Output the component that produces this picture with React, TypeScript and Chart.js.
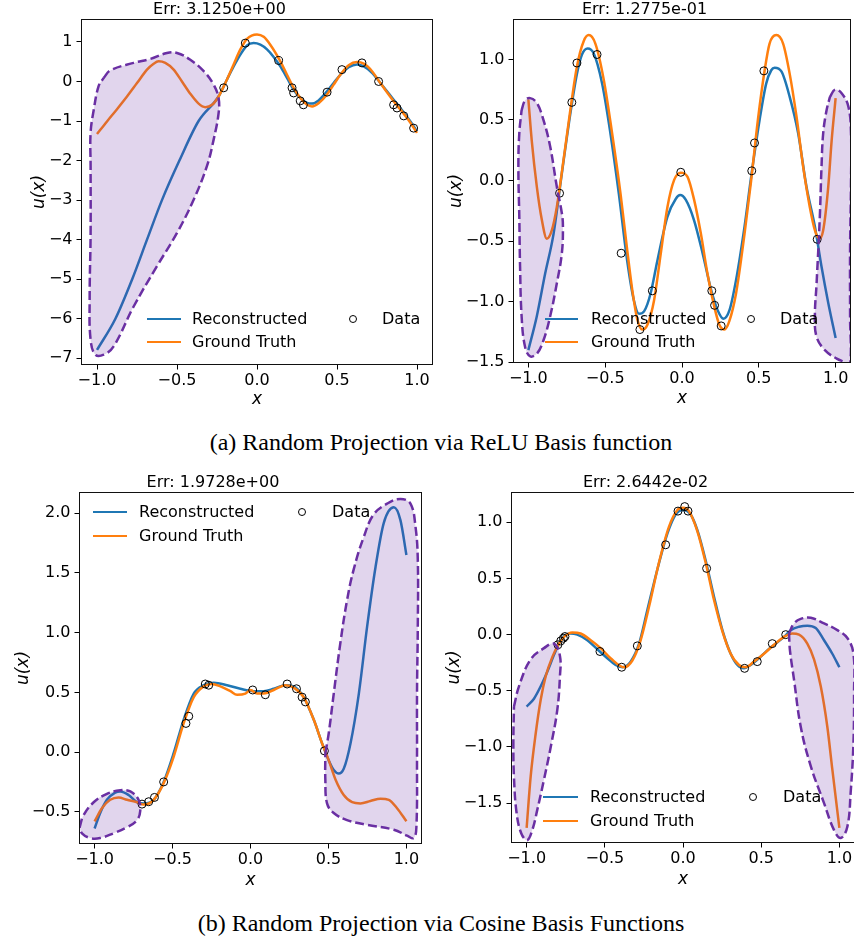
import React, { useEffect, useRef } from "react";
import { Chart, registerables } from "chart.js";

Chart.register(...registerables);

type Pt = [number, number];

const FONT = "'DejaVu Sans', sans-serif";
const BLUE = "#1f77b4";
const ORANGE = "#ff7f0e";
const PURPLE = "#6a2fa3";
const PURPLE_FILL = "rgba(106, 47, 163, 0.2)";

// ---------- shared ----------
const xTicks = [-1, -0.5, 0, 0.5, 1];
const xLim: [number, number] = [-1.1, 1.1];
const legendLabels = ["Reconstructed", "Ground Truth", "Data"];
const titles = ["Err: 3.1250e+00", "Err: 1.2775e-01", "Err: 1.9728e+00", "Err: 2.6442e-02"];
const captions = [
  "(a) Random Projection via ReLU Basis function",
  "(b) Random Projection via Cosine Basis Functions",
];

// ---------- panel 1 (ReLU, left) ----------
const p1YTicks = [-7, -6, -5, -4, -3, -2, -1, 0, 1];
const p1Recon: Pt[] = [
  [-1, -6.79], [-0.885, -6.0], [-0.78, -5.0], [-0.6875, -4.0], [-0.594, -3.0], [-0.485, -2.0],
  [-0.365, -1.0], [-0.24, -0.38], [-0.1875, 0.05], [-0.146, 0.38], [-0.104, 0.68], [-0.0625, 0.91],
  [-0.021, 0.97], [0.021, 0.93], [0.0625, 0.81], [0.104, 0.62], [0.146, 0.38], [0.1875, 0.09],
  [0.229, -0.21], [0.271, -0.42], [0.3125, -0.54], [0.344, -0.56], [0.385, -0.48], [0.4375, -0.25],
  [0.479, -0.04], [0.521, 0.17], [0.573, 0.36], [0.625, 0.43], [0.667, 0.38], [0.719, 0.22],
  [0.771, -0.04], [0.8125, -0.25], [0.854, -0.46], [0.896, -0.67], [0.948, -0.95], [1, -1.26],
];
const p1Truth: Pt[] = [
  [-1, -1.33], [-0.9375, -1.01], [-0.875, -0.7], [-0.8125, -0.38], [-0.75, -0.04], [-0.6875, 0.3],
  [-0.646, 0.45], [-0.615, 0.51], [-0.573, 0.47], [-0.521, 0.3], [-0.469, 0.0], [-0.417, -0.31],
  [-0.365, -0.56], [-0.323, -0.65], [-0.281, -0.59], [-0.24, -0.38], [-0.1875, 0.05], [-0.146, 0.43],
  [-0.104, 0.81], [-0.0625, 1.08], [0, 1.19], [0.042, 1.13], [0.083, 0.93], [0.146, 0.51],
  [0.1875, 0.17], [0.229, -0.16], [0.271, -0.42], [0.3125, -0.59], [0.344, -0.63], [0.385, -0.55],
  [0.4375, -0.33], [0.479, -0.08], [0.521, 0.17], [0.573, 0.41], [0.625, 0.49], [0.667, 0.45],
  [0.719, 0.26], [0.771, -0.04], [0.8125, -0.27], [0.854, -0.5], [0.896, -0.71], [0.948, -0.98], [1, -1.3],
];
const p1Data: Pt[] = [
  [-0.073, 0.97], [0.135, 0.53], [-0.208, -0.16], [0.219, -0.16], [0.229, -0.29], [0.27, -0.49],
  [0.29, -0.59], [0.438, -0.27], [0.531, 0.3], [0.656, 0.47], [0.76, 0.0], [0.854, -0.59],
  [0.875, -0.67], [0.917, -0.87], [0.979, -1.18],
];
const p1Blob: Pt[] = [
  [-0.958, 0.09], [-0.917, 0.28], [-0.771, 0.47], [-0.667, 0.57], [-0.563, 0.72], [-0.5, 0.72],
  [-0.417, 0.55], [-0.333, 0.26], [-0.271, -0.08], [-0.24, -0.42], [-0.24, -0.8], [-0.271, -1.47],
  [-0.313, -2.14], [-0.396, -2.99], [-0.5, -3.83], [-0.625, -4.67], [-0.771, -5.69], [-0.896, -6.7],
  [-0.958, -6.91], [-1.01, -6.91], [-1.04, -6.53], [-1.046, -5.52], [-1.04, -3.83], [-1.04, -2.15],
  [-1.04, -1.3], [-1.02, -0.71], [-0.99, -0.12],
];

// ---------- panel 2 (ReLU, right) ----------
const p2YTicks = [-1.5, -1, -0.5, 0, 0.5, 1];
const p2Recon: Pt[] = [
  [-1, -1.4], [-0.945, -1.12], [-0.891, -0.77], [-0.836, -0.44], [-0.782, 0.06], [-0.727, 0.55],
  [-0.684, 0.88], [-0.651, 1.04], [-0.614, 1.09], [-0.575, 1.05], [-0.52, 0.8], [-0.466, 0.39],
  [-0.411, -0.11], [-0.357, -0.66], [-0.313, -0.99], [-0.28, -1.1], [-0.247, -1.08], [-0.204, -0.93],
  [-0.16, -0.66], [-0.095, -0.3], [-0.04, -0.15], [-0.012, -0.12], [0.025, -0.16], [0.079, -0.33],
  [0.134, -0.6], [0.189, -0.9], [0.232, -1.07], [0.27, -1.14], [0.309, -1.07], [0.352, -0.82],
  [0.407, -0.38], [0.45, 0.03], [0.505, 0.5], [0.548, 0.8], [0.581, 0.91], [0.603, 0.93],
  [0.647, 0.9], [0.701, 0.69], [0.756, 0.39], [0.81, -0.05], [0.865, -0.38], [0.908, -0.71],
  [0.952, -1.01], [1, -1.3],
];
const p2Truth: Pt[] = [
  [-1, 0.67], [-0.978, 0.33], [-0.945, -0.05], [-0.913, -0.32], [-0.88, -0.48], [-0.847, -0.41],
  [-0.815, -0.22], [-0.771, 0.17], [-0.727, 0.58], [-0.684, 0.94], [-0.64, 1.15], [-0.607, 1.2],
  [-0.564, 1.13], [-0.509, 0.83], [-0.455, 0.39], [-0.4, -0.11], [-0.357, -0.57], [-0.324, -0.9],
  [-0.29, -1.15], [-0.258, -1.23], [-0.225, -1.19], [-0.182, -0.99], [-0.138, -0.6], [-0.095, -0.22],
  [-0.051, 0.005], [-0.008, 0.065], [0.036, 0.03], [0.079, -0.16], [0.123, -0.44], [0.166, -0.77],
  [0.21, -1.04], [0.243, -1.19], [0.276, -1.23], [0.308, -1.16], [0.352, -0.93], [0.407, -0.44],
  [0.45, 0.0], [0.494, 0.5], [0.538, 0.91], [0.57, 1.13], [0.614, 1.2], [0.658, 1.13],
  [0.701, 0.88], [0.745, 0.53], [0.789, 0.11], [0.832, -0.22], [0.865, -0.41], [0.893, -0.48],
  [0.919, -0.41], [0.952, -0.05], [0.974, 0.33], [1, 0.68],
];
const p2Data: Pt[] = [
  [-0.684, 0.97], [-0.717, 0.645], [-0.553, 1.04], [-0.797, -0.105], [-0.396, -0.6], [-0.274, -1.23],
  [-0.193, -0.91], [-0.008, 0.068], [0.194, -0.91], [0.212, -1.03], [0.255, -1.2], [0.454, 0.08],
  [0.472, 0.31], [0.533, 0.905], [0.88, -0.485],
];
const p2BlobLeft: Pt[] = [
  [-1.044, 0.58], [-1.022, 0.66], [-0.989, 0.68], [-0.945, 0.64], [-0.902, 0.5], [-0.858, 0.28],
  [-0.815, -0.05], [-0.782, -0.27], [-0.775, -0.38], [-0.782, -0.6], [-0.815, -0.85], [-0.858, -1.12],
  [-0.902, -1.32], [-0.945, -1.43], [-0.989, -1.45], [-1.022, -1.37], [-1.044, -1.12], [-1.054, -0.71],
  [-1.059, -0.3], [-1.065, 0.11], [-1.059, 0.39],
];
const p2BlobRight: Pt[] = [
  [0.963, 0.69], [0.996, 0.75], [1.039, 0.72], [1.083, 0.61], [1.1, 0.39], [1.1, -0.02],
  [1.094, -0.57], [1.094, -1.12], [1.094, -1.52], [1.061, -1.5], [1.007, -1.47], [0.93, -1.4],
  [0.876, -1.29], [0.865, -1.12], [0.876, -0.85], [0.897, -0.3], [0.908, 0.11], [0.919, 0.39],
  [0.941, 0.58],
];

// ---------- panel 3 (Cosine, left) ----------
const p3YTicks = [-0.5, 0, 0.5, 1, 1.5, 2];
const p3Recon: Pt[] = [
  [-1, -0.64], [-0.964, -0.51], [-0.921, -0.4], [-0.868, -0.34], [-0.835, -0.33], [-0.782, -0.36],
  [-0.728, -0.42], [-0.686, -0.43], [-0.621, -0.4], [-0.557, -0.25], [-0.493, -0.01], [-0.429, 0.27],
  [-0.364, 0.49], [-0.3, 0.56], [-0.236, 0.58], [-0.15, 0.56], [-0.065, 0.53], [0.02, 0.51],
  [0.085, 0.51], [0.149, 0.53], [0.224, 0.56], [0.277, 0.55], [0.341, 0.46], [0.406, 0.27],
  [0.46, 0.07], [0.502, -0.07], [0.534, -0.15], [0.566, -0.18], [0.598, -0.14], [0.641, 0.07],
  [0.695, 0.49], [0.748, 1.05], [0.802, 1.55], [0.855, 1.92], [0.92, 2.05], [0.962, 1.94], [1, 1.65],
];
const p3Truth: Pt[] = [
  [-1, -0.58], [-0.953, -0.47], [-0.9, -0.4], [-0.846, -0.38], [-0.792, -0.4], [-0.728, -0.42],
  [-0.686, -0.44], [-0.621, -0.4], [-0.557, -0.26], [-0.493, -0.04], [-0.429, 0.24], [-0.364, 0.46],
  [-0.3, 0.55], [-0.247, 0.57], [-0.193, 0.55], [-0.129, 0.51], [-0.086, 0.48], [-0.033, 0.49],
  [0, 0.52], [0.042, 0.49], [0.085, 0.49], [0.149, 0.52], [0.224, 0.56], [0.277, 0.54],
  [0.341, 0.46], [0.406, 0.27], [0.46, 0.07], [0.502, -0.07], [0.545, -0.23], [0.598, -0.36],
  [0.652, -0.42], [0.705, -0.43], [0.769, -0.41], [0.834, -0.39], [0.887, -0.4], [0.94, -0.47], [1, -0.58],
];
const p3Data: Pt[] = [
  [-0.696, -0.436], [-0.653, -0.416], [-0.616, -0.38], [-0.557, -0.25], [-0.414, 0.24], [-0.396, 0.3],
  [-0.29, 0.57], [-0.268, 0.56], [0.014, 0.52], [0.095, 0.48], [0.235, 0.57], [0.295, 0.53],
  [0.331, 0.46], [0.352, 0.42], [0.474, 0.01],
];
const p3BlobLeft: Pt[] = [
  [-1.096, -0.63], [-1.071, -0.53], [-1.006, -0.42], [-0.921, -0.35], [-0.835, -0.32], [-0.771, -0.33],
  [-0.718, -0.4], [-0.707, -0.49], [-0.728, -0.57], [-0.793, -0.63], [-0.878, -0.68], [-0.964, -0.72],
  [-1.028, -0.72], [-1.081, -0.68],
];
const p3BlobRight: Pt[] = [
  [0.48, -0.01], [0.502, 0.16], [0.534, 0.49], [0.576, 0.91], [0.619, 1.27], [0.662, 1.53],
  [0.726, 1.8], [0.79, 1.99], [0.876, 2.08], [0.962, 2.12], [1.026, 2.08], [1.058, 1.89],
  [1.073, 1.61], [1.073, 1.05], [1.068, 0.49], [1.068, -0.07], [1.064, -0.63], [1.047, -0.72],
  [1.004, -0.7], [0.919, -0.65], [0.748, -0.61], [0.619, -0.57], [0.534, -0.51], [0.491, -0.43],
  [0.48, -0.23],
];

// ---------- panel 4 (Cosine, right) ----------
const p4YTicks = [-1.5, -1, -0.5, 0, 0.5, 1];
const p4Recon: Pt[] = [
  [-1, -0.64], [-0.953, -0.57], [-0.91, -0.46], [-0.868, -0.33], [-0.825, -0.18], [-0.793, -0.08],
  [-0.761, -0.01], [-0.719, 0.01], [-0.676, 0.0], [-0.612, -0.05], [-0.548, -0.13], [-0.484, -0.21],
  [-0.431, -0.27], [-0.388, -0.29], [-0.335, -0.24], [-0.281, -0.08], [-0.228, 0.22], [-0.164, 0.58],
  [-0.1, 0.9], [-0.047, 1.07], [0, 1.11], [0.049, 1.07], [0.092, 0.93], [0.145, 0.66],
  [0.198, 0.34], [0.252, 0.04], [0.305, -0.17], [0.348, -0.27], [0.39, -0.3], [0.433, -0.27],
  [0.486, -0.21], [0.539, -0.14], [0.593, -0.08], [0.646, -0.02], [0.689, 0.04], [0.742, 0.07],
  [0.795, 0.08], [0.849, 0.06], [0.902, -0.05], [0.955, -0.17], [1, -0.29],
];
const p4Truth: Pt[] = [
  [-1, -1.72], [-0.974, -1.26], [-0.942, -0.88], [-0.91, -0.58], [-0.878, -0.37], [-0.836, -0.2],
  [-0.793, -0.08], [-0.761, -0.02], [-0.708, 0.02], [-0.655, 0.01], [-0.59, -0.05], [-0.527, -0.12],
  [-0.463, -0.21], [-0.377, -0.29], [-0.324, -0.23], [-0.271, -0.05], [-0.217, 0.25], [-0.154, 0.64],
  [-0.09, 0.96], [-0.036, 1.11], [0, 1.13], [0.038, 1.1], [0.092, 0.92], [0.145, 0.64],
  [0.198, 0.31], [0.252, 0.03], [0.305, -0.17], [0.358, -0.27], [0.401, -0.29], [0.454, -0.24],
  [0.518, -0.17], [0.582, -0.09], [0.646, -0.02], [0.699, 0.01], [0.742, 0.0], [0.795, -0.08],
  [0.838, -0.22], [0.881, -0.46], [0.923, -0.82], [0.955, -1.2], [1, -1.72],
];
const p4Data: Pt[] = [
  [-0.8, -0.09], [-0.782, -0.056], [-0.765, -0.032], [-0.755, -0.017], [-0.531, -0.15], [-0.392, -0.29],
  [-0.292, -0.1], [-0.111, 0.8], [-0.032, 1.1], [0.011, 1.14], [0.032, 1.1], [0.151, 0.59],
  [0.394, -0.3], [0.475, -0.24], [0.571, -0.08], [0.657, 0.0],
];
const p4BlobLeft: Pt[] = [
  [-1.081, -0.64], [-1.049, -0.46], [-0.974, -0.22], [-0.889, -0.12], [-0.825, -0.08], [-0.787, -0.19],
  [-0.787, -0.37], [-0.804, -0.67], [-0.846, -1.0], [-0.889, -1.29], [-0.932, -1.56], [-0.964, -1.74],
  [-0.996, -1.83], [-1.034, -1.77], [-1.064, -1.59], [-1.081, -1.27], [-1.085, -0.97],
];
const p4BlobRight: Pt[] = [
  [0.678, 0.01], [0.71, 0.1], [0.753, 0.14], [0.817, 0.15], [0.902, 0.1], [0.987, 0.04],
  [1.051, -0.03], [1.09, -0.17], [1.094, -0.52], [1.09, -0.97], [1.072, -1.41], [1.051, -1.71],
  [1.009, -1.81], [0.966, -1.74], [0.902, -1.5], [0.817, -1.17], [0.753, -0.82], [0.71, -0.4],
  [0.684, -0.14],
];

// ---------- layout ----------
const ML = 75, MT = 22, MB = 45, MR = 8;

interface PanelCfg {
  title: string;
  recon: Pt[]; truth: Pt[]; data: Pt[]; blobs: Pt[][];
  yTicks: number[]; yDec: number; ylim: [number, number];
  plot: { l: number; t: number; r: number; b: number };
  yTitlePad: number; xTitlePad: number;
  legend: { x1: number; x2: number; textX: number; r1: number; r2: number; cx: number; dataX: number };
}

const panels: PanelCfg[] = [
  {
    title: titles[0], recon: p1Recon, truth: p1Truth, data: p1Data, blobs: [p1Blob],
    yTicks: p1YTicks, yDec: 0, ylim: [-7.17, 1.58],
    plot: { l: 81, t: 19, r: 433, b: 365 }, yTitlePad: 25, xTitlePad: 2,
    legend: { x1: 147, x2: 181, textX: 192, r1: 319, r2: 342, cx: 353, dataX: 382 },
  },
  {
    title: titles[1], recon: p2Recon, truth: p2Truth, data: p2Data, blobs: [p2BlobLeft, p2BlobRight],
    yTicks: p2YTicks, yDec: 1, ylim: [-1.506, 1.333],
    plot: { l: 513, t: 19, r: 851, b: 363 }, yTitlePad: 10, xTitlePad: 1,
    legend: { x1: 545, x2: 578, textX: 591, r1: 319, r2: 342, cx: 751, dataX: 780 },
  },
  {
    title: titles[2], recon: p3Recon, truth: p3Truth, data: p3Data, blobs: [p3BlobLeft, p3BlobRight],
    yTicks: p3YTicks, yDec: 1, ylim: [-0.77, 2.178],
    plot: { l: 79, t: 492, r: 422, b: 844 }, yTitlePad: 11, xTitlePad: 0,
    legend: { x1: 93, x2: 127, textX: 139, r1: 512, r2: 536, cx: 302, dataX: 332 },
  },
  {
    title: titles[3], recon: p4Recon, truth: p4Truth, data: p4Data, blobs: [p4BlobLeft, p4BlobRight],
    yTicks: p4YTicks, yDec: 1, ylim: [-1.855, 1.27],
    plot: { l: 511, t: 492, r: 855, b: 843 }, yTitlePad: 10, xTitlePad: 0,
    legend: { x1: 543, x2: 578, textX: 590, r1: 797, r2: 821, cx: 753, dataX: 783 },
  },
];

const fmt = (v: number, d: number) => (v < 0 ? "\u2212" : "") + Math.abs(v).toFixed(d);
const toXY = (pts: Pt[]) => pts.map(([x, y]) => ({ x, y }));

const framePlugin = {
  id: "frame",
  afterDraw(chart: any) {
    const { ctx, chartArea } = chart;
    const l = Math.round(chartArea.left) + 0.5;
    const t = Math.round(chartArea.top) + 0.5;
    const r = Math.round(chartArea.right) - 0.5;
    const b = Math.round(chartArea.bottom) - 0.5;
    ctx.save();
    ctx.strokeStyle = "#111";
    ctx.lineWidth = 1;
    ctx.strokeRect(l, t, r - l, b - t);
    ctx.restore();
  },
};

function Panel({ cfg }: { cfg: PanelCfg }) {
  const ref = useRef<HTMLCanvasElement>(null);
  const w = cfg.plot.r - cfg.plot.l + ML + MR;
  const h = cfg.plot.b - cfg.plot.t + MT + MB;

  useEffect(() => {
    const tickFont = { family: FONT, size: 16 };
    const blobSets = cfg.blobs.map((b) => ({
      data: toXY([...b, b[0]]),
      showLine: true,
      fill: "shape",
      tension: 0.4,
      capBezierPoints: false,
      borderColor: PURPLE,
      borderWidth: 2.5,
      borderDash: [9, 4],
      backgroundColor: PURPLE_FILL,
      pointRadius: 0,
      order: 0,
    }));
    const chart = new Chart(ref.current as HTMLCanvasElement, {
      type: "line",
      data: {
        datasets: [
          ...blobSets,
          {
            label: legendLabels[2],
            data: toXY(cfg.data),
            showLine: false,
            pointRadius: 4,
            pointBorderWidth: 1,
            pointBorderColor: "#000",
            pointBackgroundColor: "rgba(0,0,0,0)",
            order: 1,
          },
          {
            label: legendLabels[1],
            data: toXY(cfg.truth),
            borderColor: ORANGE,
            borderWidth: 2.5,
            pointRadius: 0,
            cubicInterpolationMode: "monotone",
            fill: false,
            order: 2,
          },
          {
            label: legendLabels[0],
            data: toXY(cfg.recon),
            borderColor: BLUE,
            borderWidth: 2.5,
            pointRadius: 0,
            cubicInterpolationMode: "monotone",
            fill: false,
            order: 3,
          },
        ] as any,
      },
      options: {
        responsive: false,
        animation: false,
        events: [],
        layout: { padding: { left: 0, top: 0, right: MR, bottom: 0 } },
        scales: {
          x: {
            type: "linear",
            min: xLim[0],
            max: xLim[1],
            afterBuildTicks: (s: any) => { s.ticks = xTicks.map((v) => ({ value: v })); },
            afterFit: (s: any) => { s.height = MB; },
            ticks: { font: tickFont, color: "#000", padding: 2, maxRotation: 0, callback: (v: any) => fmt(Number(v), 1) },
            grid: { display: true, drawOnChartArea: false, drawTicks: true, tickLength: 4.5, color: "#000" },
            border: { display: false },
            title: {
              display: true, text: "x", color: "#000",
              font: { family: FONT, size: 17, style: "italic", lineHeight: 1 },
              padding: { top: 0, bottom: cfg.xTitlePad },
            },
          },
          y: {
            type: "linear",
            min: cfg.ylim[0],
            max: cfg.ylim[1],
            afterBuildTicks: (s: any) => { s.ticks = cfg.yTicks.map((v) => ({ value: v })); },
            afterFit: (s: any) => { s.width = ML; },
            ticks: { font: tickFont, color: "#000", padding: 4, callback: (v: any) => fmt(Number(v), cfg.yDec) },
            grid: { display: true, drawOnChartArea: false, drawTicks: true, tickLength: 4.5, color: "#000" },
            border: { display: false },
            title: {
              display: true, text: "u(x)", color: "#000",
              font: { family: FONT, size: 17, style: "italic", lineHeight: 1 },
              padding: { top: cfg.yTitlePad, bottom: 0 },
            },
          },
        },
        plugins: {
          legend: { display: false },
          tooltip: { enabled: false },
          title: {
            display: true, text: cfg.title, color: "#000",
            font: { family: FONT, size: 16, weight: "normal", lineHeight: 1 },
            padding: { top: 5, bottom: 1 },
          },
        },
      } as any,
      plugins: [framePlugin],
    });
    return () => chart.destroy();
  }, [cfg]);

  const lg = cfg.legend;
  const textStyle: React.CSSProperties = {
    position: "absolute", fontFamily: FONT, fontSize: 16, lineHeight: "18px", color: "#000", whiteSpace: "nowrap",
  };
  return (
    <>
      <canvas
        ref={ref}
        width={w}
        height={h}
        style={{ position: "absolute", left: cfg.plot.l - ML, top: cfg.plot.t - MT, width: w, height: h }}
      />
      <div style={{ position: "absolute", left: lg.x1, top: lg.r1 - 1.25, width: lg.x2 - lg.x1, height: 2.5, background: BLUE }} />
      <div style={{ position: "absolute", left: lg.x1, top: lg.r2 - 1.25, width: lg.x2 - lg.x1, height: 2.5, background: ORANGE }} />
      <div style={{ ...textStyle, left: lg.textX, top: lg.r1 - 9 }}>{legendLabels[0]}</div>
      <div style={{ ...textStyle, left: lg.textX, top: lg.r2 - 9 }}>{legendLabels[1]}</div>
      <div
        style={{
          position: "absolute", left: lg.cx - 4, top: lg.r1 - 4, width: 8, height: 8,
          border: "1px solid #000", borderRadius: "50%", boxSizing: "border-box",
        }}
      />
      <div style={{ ...textStyle, left: lg.dataX, top: lg.r1 - 9 }}>{legendLabels[2]}</div>
    </>
  );
}

export default function App() {
  const capStyle: React.CSSProperties = {
    position: "absolute", left: 0, width: 882, textAlign: "center",
    fontFamily: "'Liberation Serif', 'Times New Roman', serif", fontSize: 24, lineHeight: "28px",
    color: "#000", whiteSpace: "nowrap",
  };
  return (
    <div style={{ position: "absolute", left: 0, top: 0, width: 854, height: 941, background: "#fff", overflow: "hidden" }}>
      {panels.map((p, i) => (
        <Panel key={i} cfg={p} />
      ))}
      <div style={{ ...capStyle, top: 428 }}>{captions[0]}</div>
      <div style={{ ...capStyle, top: 909 }}>{captions[1]}</div>
    </div>
  );
}
